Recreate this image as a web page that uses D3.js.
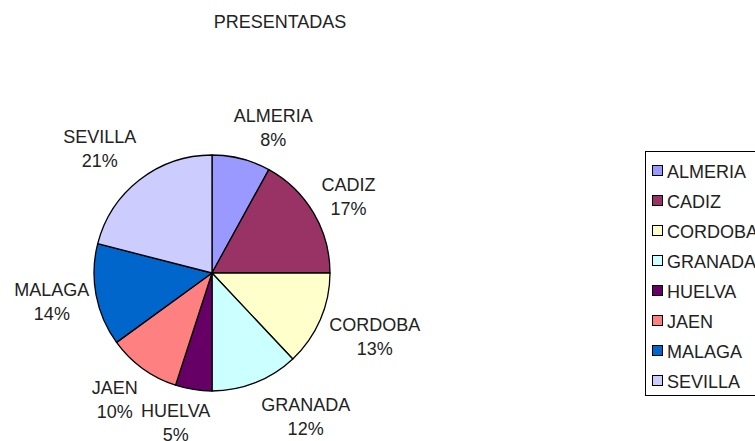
<!DOCTYPE html>
<html>
<head>
<meta charset="utf-8">
<script src="https://cdn.jsdelivr.net/npm/d3@7"></script>
<style>
  body { margin: 0; background: #fff; }
  svg text { font-family: "Liberation Sans", Arial, sans-serif; fill: #222; }
</style>
</head>
<body>
<div id="chart"></div>
<script>
// provincias y porcentaje de solicitudes presentadas
var provincias = ["ALMERIA", "CADIZ", "CORDOBA", "GRANADA", "HUELVA", "JAEN", "MALAGA", "SEVILLA"];
var valores = [8, 17, 13, 12, 5, 10, 14, 21];
var colores = ["#9999ff", "#993366", "#ffffcc", "#ccffff", "#660066", "#ff8080", "#0066cc", "#ccccff"];
var titulo = "PRESENTADAS";

var width = 755, height = 441;
var cx = 212, cy = 273, radius = 118;

// desplazamiento de las etiquetas respecto a la posicion radial (como en el original)
var ajusteEtiquetas = {
    ALMERIA: [21, 11], CADIZ: [-3, 5], CORDOBA: [14, -1], GRANADA: [34, -8],
    HUELVA: [-11, -11], JAEN: [-2, -5], MALAGA: [-1, -2], SEVILLA: [-13, 3]
};

var data = provincias.map(function(p, i){ return {name: p, value: valores[i]}; });
var total = d3.sum(valores);

var svg = d3.select("#chart").append("svg")
    .attr("width", width)
    .attr("height", height);

svg.append("text")
    .attr("x", 280)
    .attr("y", 28)
    .attr("text-anchor", "middle")
    .style("font-size", "18px")
    .text(titulo);

var color = d3.scaleOrdinal().domain(provincias).range(colores);

var pie = d3.pie()
    .value(function(d){ return d.value; })
    .sort(null);

var arc = d3.arc().innerRadius(0).outerRadius(radius);
var labelArc = d3.arc().innerRadius(162).outerRadius(162);

var g = svg.append("g")
    .attr("transform", "translate(" + cx + "," + cy + ")");

var slices = pie(data);

g.selectAll("path")
    .data(slices)
    .enter().append("path")
    .attr("d", arc)
    .attr("fill", function(d){ return color(d.data.name); })
    .attr("stroke", "#000")
    .attr("stroke-width", 1.3)
    .attr("stroke-linejoin", "round");

var labels = g.selectAll(".lbl")
    .data(slices)
    .enter().append("text")
    .attr("class", "lbl")
    .attr("text-anchor", "middle")
    .style("font-size", "18px")
    .attr("transform", function(d){
        var c = labelArc.centroid(d);
        var a = ajusteEtiquetas[d.data.name];
        return "translate(" + (c[0] + a[0]) + "," + (c[1] + a[1]) + ")";
    });

labels.append("tspan")
    .attr("x", 0)
    .attr("y", -5)
    .text(function(d){ return d.data.name; });

labels.append("tspan")
    .attr("x", 0)
    .attr("y", 19)
    .text(function(d){ return Math.round(d.data.value / total * 100) + "%"; });

// leyenda
var legend = svg.append("g").attr("transform", "translate(645,151)");

legend.append("rect")
    .attr("x", 0.5).attr("y", 0.5)
    .attr("width", 130).attr("height", 244)
    .attr("fill", "#fff")
    .attr("stroke", "#000")
    .attr("stroke-width", 1);

var y = d3.scalePoint().domain(provincias).range([20, 230]);

var keys = legend.selectAll(".key")
    .data(data)
    .enter().append("g")
    .attr("class", "key")
    .attr("transform", function(d){ return "translate(0," + y(d.name) + ")"; });

keys.append("rect")
    .attr("x", 7.5).attr("y", -5.5)
    .attr("width", 10).attr("height", 10)
    .attr("fill", function(d){ return color(d.name); })
    .attr("stroke", "#000")
    .attr("stroke-width", 1);

keys.append("text")
    .attr("x", 22)
    .attr("y", 6.5)
    .style("font-size", "18px")
    .text(function(d){ return d.name; });
</script>
</body>
</html>
